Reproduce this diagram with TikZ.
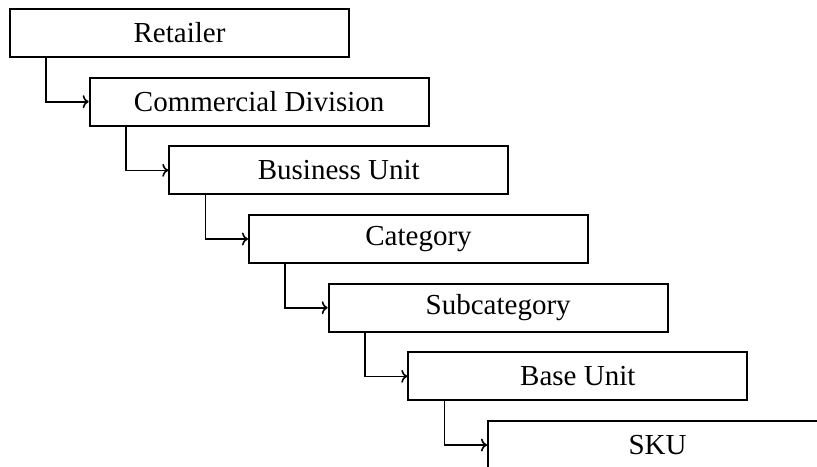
\documentclass[tikz,border=0pt]{standalone}
\usepackage{fontspec}
\setmainfont{Liberation Serif}
\usetikzlibrary{arrows.meta}
\begin{document}
\begin{tikzpicture}[x=0.5pt,y=-0.5pt,
  levelbox/.style={draw, line width=1pt, minimum width=169.5pt, minimum height=24pt,
    inner sep=0pt, font=\fontsize{14.5}{17}\selectfont},
  link/.style={draw, line width=0.8pt, -{To[length=3pt,width=6.5pt]}}]
\path[use as bounding box, clip] (0,0) rectangle (817,466);
\node[levelbox] (n0) at (179.5,33) {Retailer};
\node[levelbox] (n1) at (259.2,101.7) {Commercial Division};
\node[levelbox] (n2) at (338.8,170.3) {Business Unit};
\node[levelbox] (n3) at (418.5,239) {Category};
\node[levelbox] (n4) at (498.2,307.7) {Subcategory};
\node[levelbox] (n5) at (577.8,376.3) {Base Unit};
\node[levelbox] (n6) at (657.5,445) {SKU};
\foreach \a/\b in {n0/n1,n1/n2,n2/n3,n3/n4,n4/n5,n5/n6}
  \draw[link] ([xshift=18.5pt]\a.south west) |- (\b.west);
\end{tikzpicture}
\end{document}
